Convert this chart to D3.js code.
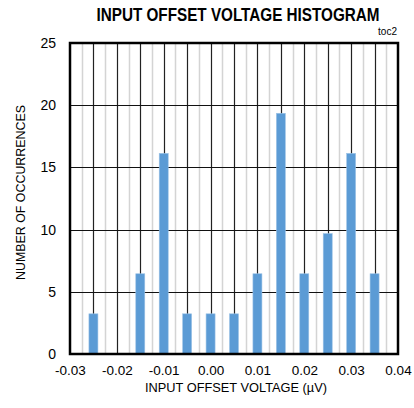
<!DOCTYPE html>
<html>
<head>
<meta charset="utf-8">
<script src="https://cdn.jsdelivr.net/npm/d3@7"></script>
<style>
    body { margin: 0; background: #fff; }
    svg { display: block; }
    text { font-family: "Liberation Sans", Arial, sans-serif; fill: #000; }
</style>
</head>
<body>
<svg id="chart"></svg>
<script>
"use strict";

// Chart dimensions
const width = 414;
const height = 408;
const margin = { top: 43, right: 16, bottom: 54, left: 70 };

// Data: bin centres (µV) and occurrences (31 samples, shown as %)
const binCentres = [-0.025, -0.015, -0.01, -0.005, 0.0, 0.005, 0.01, 0.015, 0.02, 0.025, 0.03, 0.035];
const occurrences = [3.23, 6.45, 16.13, 3.23, 3.23, 3.23, 6.45, 19.35, 6.45, 9.68, 16.13, 6.45];
const xTicks = [-0.03, -0.02, -0.01, 0.0, 0.01, 0.02, 0.03, 0.04];
const yTicks = [0, 5, 10, 15, 20, 25];
const xDomain = [-0.03, 0.04];
const yDomain = [0, 25];

const svg = d3.select("#chart")
    .attr("width", width)
    .attr("height", height);

const innerW = width - margin.left - margin.right;
const innerH = height - margin.top - margin.bottom;

const xScale = d3.scaleLinear().domain(xDomain).range([0, innerW]);
const yScale = d3.scaleLinear().domain(yDomain).range([innerH, 0]);

const plot = svg.append("g")
    .attr("transform", `translate(${margin.left}, ${margin.top})`);

// minor vertical grid (every 0.0025), major (every 0.005)
const minorX = d3.range(0, 28).map(i => xDomain[0] + 0.0025 * i).filter((v, i) => i % 2 === 1);
const majorX = d3.range(1, 14).map(i => xDomain[0] + 0.005 * i);

plot.append("g").selectAll("line")
    .data(minorX)
    .join("line")
        .attr("x1", d => Math.round(xScale(d)) + 0.5)
        .attr("x2", d => Math.round(xScale(d)) + 0.5)
        .attr("y1", 0)
        .attr("y2", innerH)
        .attr("stroke", "#d4d4d4")
        .attr("stroke-width", 1.5);

plot.append("g").selectAll("line")
    .data(majorX)
    .join("line")
        .attr("x1", d => Math.round(xScale(d)) + 0.5)
        .attr("x2", d => Math.round(xScale(d)) + 0.5)
        .attr("y1", 0)
        .attr("y2", innerH)
        .attr("stroke", "#222")
        .attr("stroke-width", 1.2);

// horizontal grid
plot.append("g").selectAll("line")
    .data(yTicks.slice(1, -1))
    .join("line")
        .attr("x1", 0)
        .attr("x2", innerW)
        .attr("y1", d => Math.round(yScale(d)) + 0.5)
        .attr("y2", d => Math.round(yScale(d)) + 0.5)
        .attr("stroke", "#111")
        .attr("stroke-width", 1.2);

// bars
const barW = 9;
plot.append("g").selectAll("rect")
    .data(binCentres.map((c, i) => ({ c: c, v: occurrences[i] })))
    .join("rect")
        .attr("x", d => xScale(d.c) - barW / 2)
        .attr("y", d => yScale(d.v))
        .attr("width", barW)
        .attr("height", d => innerH - yScale(d.v))
        .attr("fill", "#5b9bd5")
        .attr("stroke", "#9dc3e6")
        .attr("stroke-width", 0.6);

// frame
plot.append("rect")
    .attr("x", 0)
    .attr("y", 0)
    .attr("width", innerW)
    .attr("height", innerH)
    .attr("fill", "none")
    .attr("stroke", "#000")
    .attr("stroke-width", 2.5);

// axes (labels only)
const xAxis = plot.append("g")
    .attr("transform", `translate(0, ${innerH})`)
    .call(d3.axisBottom(xScale).tickValues(xTicks).tickSize(0).tickPadding(11)
        .tickFormat(d3.format(".2f")));
xAxis.select(".domain").remove();
xAxis.selectAll("text")
    .style("font-size", "13.5px")
    .style("font-family", "'Liberation Sans', Arial, sans-serif")
    .attr("fill", "#000")
    .text(d => d3.format(".2f")(d).replace("−", "-"));

const yAxis = plot.append("g")
    .call(d3.axisLeft(yScale).tickValues(yTicks).tickSize(0).tickPadding(14));
yAxis.select(".domain").remove();
yAxis.selectAll("text")
    .style("font-size", "14px")
    .style("font-family", "'Liberation Sans', Arial, sans-serif")
    .attr("fill", "#000");

// titles
svg.append("text")
    .attr("x", 238)
    .attr("y", 21)
    .attr("text-anchor", "middle")
    .attr("textLength", 283)
    .attr("lengthAdjust", "spacingAndGlyphs")
    .style("font-size", "18px")
    .style("font-weight", "bold")
    .style("font-family", "'Liberation Sans Narrow', 'Liberation Sans', Arial, sans-serif")
    .text("INPUT OFFSET VOLTAGE HISTOGRAM");

svg.append("text")
    .attr("x", 397)
    .attr("y", 35)
    .attr("text-anchor", "end")
    .style("font-size", "10px")
    .text("toc2");

svg.append("text")
    .attr("x", 236)
    .attr("y", 392)
    .attr("text-anchor", "middle")
    .attr("textLength", 182)
    .attr("lengthAdjust", "spacingAndGlyphs")
    .style("font-size", "13.5px")
    .text("INPUT OFFSET VOLTAGE (µV)");

svg.append("text")
    .attr("transform", "translate(25, 192.5) rotate(-90)")
    .attr("text-anchor", "middle")
    .attr("textLength", 175)
    .attr("lengthAdjust", "spacingAndGlyphs")
    .style("font-size", "13.5px")
    .text("NUMBER OF OCCURRENCES");
</script>
</body>
</html>
